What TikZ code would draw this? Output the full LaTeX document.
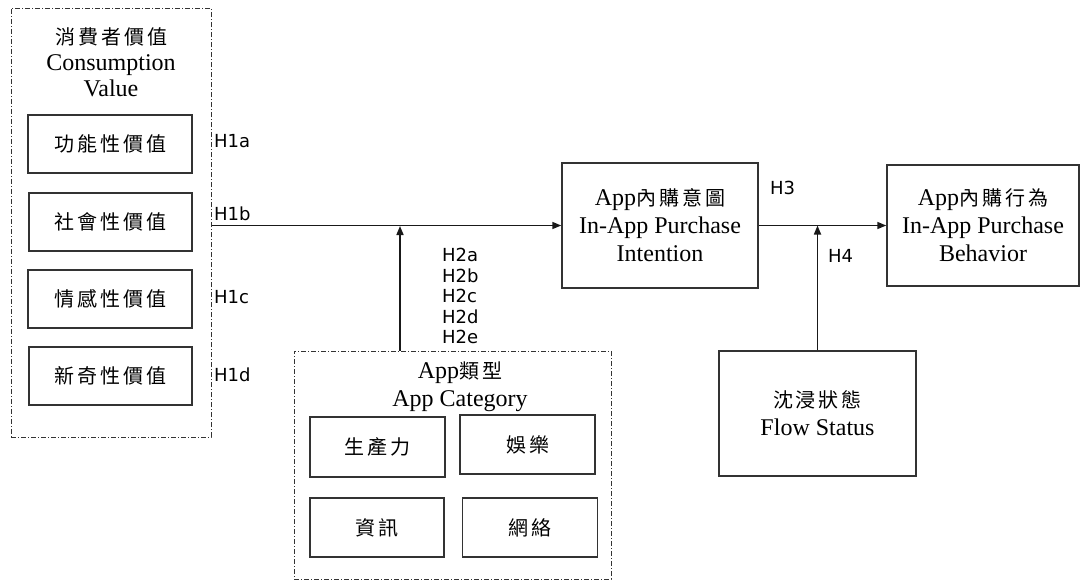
\documentclass[tikz,border=0pt]{standalone}
\usepackage{fontspec}
\setmainfont{Liberation Serif}
\newfontfamily\cjk[LetterSpace=15]{Noto Sans CJK TC}
\newfontfamily\hfont{DejaVu Sans}
\usetikzlibrary{arrows.meta}
\newcommand{\zh}[1]{{\cjk\fontsize{20}{26}\selectfont #1}}

\begin{document}
\begin{tikzpicture}[x=1pt, y=-1pt,
    box/.style={draw=black!80, line width=1.5pt, inner sep=0pt, align=center, font=\fontsize{24}{28}\selectfont},
    group/.style={draw=black!80, line width=1pt, dash pattern=on 5pt off 2pt on 1pt off 2pt, inner sep=0pt},
    title/.style={align=center, inner sep=0pt, font=\fontsize{24}{26}\selectfont},
    hyp/.style={anchor=west, align=left, inner sep=0pt, font=\hfont\fontsize{18}{20.5}\selectfont},
    arr/.style={draw=black!90, line width=1.6pt, -{Triangle[length=9pt,width=7pt]}}]
    \useasboundingbox (0,0) rectangle (1081,581);

    % Consumption value group
    \node[group, minimum width=200pt, minimum height=429pt] (cv) at (111,222.5) {};
    \node[title] (cvtitle) at (111,62) {\zh{消費者價值}\\Consumption\\Value};
    \node[box, minimum width=164pt, minimum height=58pt] (func) at (110,144) {\zh{功能性價值}};
    \node[box, minimum width=163pt, minimum height=58pt] (soc) at (110.5,222) {\zh{社會性價值}};
    \node[box, minimum width=164pt, minimum height=58pt] (emo) at (110,299) {\zh{情感性價值}};
    \node[box, minimum width=163pt, minimum height=58pt] (nov) at (110.5,376) {\zh{新奇性價值}};

    % Hypotheses H1
    \node[hyp] (h1a) at (214,141) {H1a};
    \node[hyp] (h1b) at (214,214) {H1b};
    \node[hyp] (h1c) at (214,297) {H1c};
    \node[hyp] (h1d) at (214,375) {H1d};

    % Purchase intention and behavior
    \node[box, minimum width=196pt, minimum height=125pt] (intent) at (660,225.5) {App\zh{內購意圖}\\In-App Purchase\\Intention};
    \node[box, minimum width=192pt, minimum height=121pt] (behav) at (983,225.5) {App\zh{內購行為}\\In-App Purchase\\Behavior};

    % Flow status
    \node[box, minimum width=197pt, minimum height=125pt] (flow) at (817.5,413.5) {\zh{沈浸狀態}\\Flow Status};

    % App category group
    \node[group, minimum width=317pt, minimum height=228pt] (cat) at (452.5,465) {};
    \node[title, font=\fontsize{24}{28}\selectfont] (cattitle) at (460,387) {App\zh{類型}\\App Category};
    \node[box, minimum width=135pt, minimum height=60pt] (prod) at (377.5,447) {\zh{生產力}};
    \node[box, minimum width=135pt, minimum height=59pt] (ent) at (527.5,444.5) {\zh{娛樂}};
    \node[box, minimum width=134pt, minimum height=59pt] (info) at (377,527.5) {\zh{資訊}};
    \node[box, minimum width=135pt, minimum height=59pt] (net) at (530,527.5) {\zh{網絡}};

    % Hypotheses H2 -- H4
    \node[hyp] (h2) at (442,296) {H2a\\H2b\\H2c\\H2d\\H2e};
    \node[hyp] (h3) at (770,188) {H3};
    \node[hyp] (h4) at (828,256) {H4};

    % Paths
    \coordinate (j1) at (400,226);
    \draw[arr] (cv.east |- intent.west) -- (intent.west);
    \draw[arr] (j1 |- cat.north) -- (j1);
    \draw[arr] (intent.east) -- (behav.west);
    \draw[arr] (flow.north) -- (flow.north |- intent.east);
\end{tikzpicture}
\end{document}
